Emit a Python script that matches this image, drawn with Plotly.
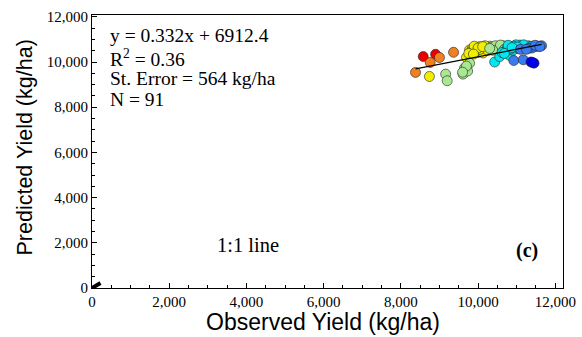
import plotly.graph_objects as go

# ---------------- data ----------------
observed = [
    8580, 8900,
    8380, 8760, 9000, 9365,
    8740, 9700, 9780, 9910, 10040, 10000, 10215, 10130, 9850, 10100, 10300, 9950, 10050, 10180,
    9820, 9900, 10250, 10000, 9760, 10120, 9880,
    9160, 9200, 9610, 9650, 9780, 9730, 9700, 9600, 10475, 10400, 10550, 10650, 10750, 10600,
    10350, 10500, 10700, 10450, 10800, 10580, 10380, 10680, 10300,
    10865, 11080, 11210, 11470, 10430, 10560, 10820, 10950, 11000, 10700, 10900, 11300, 11150,
    10750, 11050, 10980, 11120, 10850, 11250, 11350, 10620, 10920, 11180, 11020, 10780, 11400,
    10680, 10880,
    10925, 11170, 11645, 11550, 11400, 11300, 11100, 11480, 11250, 11600,
    11370, 11450, 11410,
]
predicted = [
    10240, 10340,
    9540, 9980, 10200, 10430,
    9360, 10200, 10535, 10640, 10680, 10430, 10640, 10400, 10580, 10600, 10700, 10500, 10560, 10720,
    10450, 10700, 10520, 10620, 10380, 10680, 10350,
    9465, 9170, 9465, 9730, 9950, 9600, 9820, 9550, 10680, 10600, 10650, 10720, 10700, 10600,
    10660, 10560, 10640, 10720, 10680, 10750, 10520, 10560, 10600,
    10680, 10750, 10680, 10680, 10000, 10240, 10290, 10600, 10700, 10480, 10520, 10720, 10640,
    10620, 10600, 10760, 10700, 10580, 10620, 10680, 10420, 10700, 10760, 10660, 10740, 10700,
    10380, 10640,
    10065, 10100, 10720, 10700, 10620, 10600, 10560, 10740, 10560, 10680,
    10000, 9950, 9980,
]
group = (
    [0] * 2 + [1] * 4 + [2] * 21 + [3] * 23 + [4] * 28 + [5] * 10 + [6] * 3
)
group_colors = ["#EE0000", "#F08020", "#F2EE00", "#A8E890", "#00E8F0", "#3A7BEF", "#0000EE"]

slope = 0.332
intercept = 6912.4
one_to_one = [0, 220]

x_ticks = [0, 2000, 4000, 6000, 8000, 10000, 12000]
y_ticks = [0, 2000, 4000, 6000, 8000, 10000, 12000]
tick_text = ["0", "2,000", "4,000", "6,000", "8,000", "10,000", "12,000"]

# ---------------- figure ----------------
fig = go.Figure()

fig.add_trace(go.Scatter(
    x=observed, y=predicted, mode="markers",
    marker=dict(size=10, color=[group_colors[g] for g in group],
                line=dict(color="#222222", width=0.6)),
    showlegend=False, hoverinfo="x+y",
))

xr = [min(observed), max(observed)]
fig.add_trace(go.Scatter(
    x=xr, y=[slope * v + intercept for v in xr], mode="lines",
    line=dict(color="black", width=1.3), showlegend=False,
))

fig.add_trace(go.Scatter(
    x=one_to_one, y=one_to_one, mode="lines",
    line=dict(color="black", width=4), showlegend=False,
))

serif = "Liberation Serif, Times New Roman, serif"
sans = "Liberation Sans, Arial, sans-serif"

axis_common = dict(
    showline=True, linecolor="black", linewidth=1, mirror=True,
    ticks="inside", ticklen=5, tickcolor="black", tickwidth=1,
    showgrid=False, zeroline=False, automargin=False,
    tickfont=dict(family=serif, size=15, color="black"),
    minor=dict(ticks="inside", ticklen=3, dtick=500, tickcolor="black", showgrid=False),
)

fig.update_xaxes(range=[0, 12200], tickvals=x_ticks, ticktext=tick_text, **axis_common)
fig.update_yaxes(range=[0, 12080], tickvals=y_ticks, ticktext=tick_text, **axis_common)

# axis titles
fig.add_annotation(x=0.4904, y=-0.126, xref="paper", yref="paper",
                   text="Observed Yield (kg/ha)", showarrow=False,
                   xanchor="center", yanchor="middle",
                   font=dict(family=sans, size=23, color="black"))
fig.add_annotation(x=-0.142, y=0.515, xref="paper", yref="paper",
                   text="Predicted Yield (kg/ha)", showarrow=False, textangle=-90,
                   xanchor="center", yanchor="middle",
                   font=dict(family=sans, size=21.5, color="black"))

stats_lines = [
    f"y = {slope}x + {intercept}",
    "R<sup>2</sup> = 0.36",
    "St. Error = 564 kg/ha",
    "N = 91",
]
stats_y = [0.925, 0.842, 0.767, 0.690]
for txt, yy in zip(stats_lines, stats_y):
    fig.add_annotation(x=0.034, y=yy, xref="paper", yref="paper", text=txt,
                       showarrow=False, xanchor="left", yanchor="middle",
                       font=dict(family=serif, size=19.5, color="black"))

fig.add_annotation(x=0.261, y=0.158, xref="paper", yref="paper", text="1:1 line",
                   showarrow=False, xanchor="left", yanchor="middle",
                   font=dict(family=serif, size=20.5, color="black"))
fig.add_annotation(x=0.924, y=0.139, xref="paper", yref="paper", text="<b>(c)</b>",
                   showarrow=False, xanchor="center", yanchor="middle",
                   font=dict(family=serif, size=20, color="black"))

fig.update_layout(
    width=582, height=337,
    margin=dict(l=92, r=19, t=15, b=49),
    plot_bgcolor="white", paper_bgcolor="white",
)

fig.write_html(
    "out.html",
    config={"displayModeBar": False},
    post_script="document.body.style.margin='0';document.body.style.overflow='hidden';",
)
